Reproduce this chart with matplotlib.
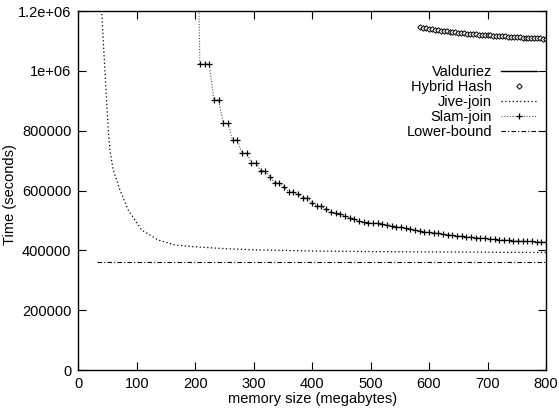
import matplotlib
matplotlib.use("Agg")
import matplotlib.pyplot as plt

plt.rcParams['font.family'] = ['Liberation Sans', 'DejaVu Sans']

# Jive-join (memory MB -> seconds)
jive_mem = [35, 40, 45.6, 51.3, 54.2, 59.8, 71.3, 85.5, 108.4, 136.8, 165.3, 196.6, 250, 300, 400, 500, 600, 700, 800]
jive_time = [1400000, 1200000, 1000000, 802700, 735800, 668900, 602000, 535100, 468200, 434800, 418100, 412400,
             406000, 402000, 398000, 396000, 395000, 394000, 393000]

# Lower-bound
lb_mem = [32, 800]
lb_time = [362000, 362000]

# Slam-join, points every 8 MB
slam_mem = list(range(200, 801, 8))
slam_time = [2000000,
             1023000, 1023000, 1023000, 903000, 903000, 825000, 825000, 769000, 769000,
             725000, 725000, 693000, 693000, 666000, 666000, 646000, 626000, 626000, 611000,
             596000, 596000, 587000, 576000, 576000, 559000, 548000, 548000, 538000, 527000,
             524000, 521000, 515000, 509000, 504000, 498000, 496000, 493000, 491000, 490000,
             487000, 485000, 483000, 479000, 477000, 474000, 471000, 468000, 465000, 463000,
             460000, 459000, 457000, 455000, 453000, 451000, 449000, 447000, 446000, 444000,
             443000, 441000, 440000, 438000, 437000, 436000, 435000, 434000, 433000, 432000,
             431000, 430000, 430000, 429000, 428500, 428000]

# Hybrid Hash
hh_mem = [585, 590, 595, 600, 605, 610, 615, 620, 625, 630, 635, 640, 645,
          650, 655, 660, 665, 670, 675, 680, 685, 690, 695, 700, 705, 710, 715, 720, 725, 730, 735,
          740, 745, 750, 755, 760, 765, 770, 775, 780, 785, 790, 795, 800]
hh_time = [1146000, 1144000, 1142000, 1140500, 1139000,
           1137500, 1136000, 1134500, 1133000, 1132000, 1131000, 1130000, 1129000, 1128000, 1127000,
           1126000, 1125000, 1124000, 1123000, 1122000, 1121300, 1120600, 1120000, 1119300, 1118600,
           1118000, 1117300, 1116600, 1116000, 1115300, 1114700, 1114100, 1113500, 1113000, 1112400,
           1111800, 1111200, 1110700, 1110200, 1109700, 1109100, 1108600, 1108100, 1107600]

x_ticks = [0, 100, 200, 300, 400, 500, 600, 700, 800]
y_ticks = [0, 200000, 400000, 600000, 800000, 1000000, 1200000]
y_tick_labels = ['0', '200000', '400000', '600000', '800000', '1e+06', '1.2e+06']

fig = plt.figure(figsize=(5.59, 4.13), dpi=100)
ax = fig.add_axes([0.140, 0.104, 0.8367, 0.869])

ax.plot([], [], color='black', lw=1.0, label='Valduriez')
ax.plot(hh_mem, hh_time, linestyle='none', marker='D', markersize=2.8, markerfacecolor='white',
        markeredgecolor='black', markeredgewidth=0.7, label='Hybrid Hash')
ax.plot(jive_mem, jive_time, color='black', lw=0.9, linestyle=(0, (1, 2)), label='Jive-join')
ax.plot(slam_mem, slam_time, color='#555555', lw=0.8, linestyle=(0, (1, 1.5)), marker='+',
        markersize=4, markeredgecolor='black', markeredgewidth=0.9, label='Slam-join')
ax.plot(lb_mem, lb_time, color='black', lw=0.8, linestyle=(0, (4, 2, 1, 2)), label='Lower-bound')

ax.set_xlim(0, 800)
ax.set_ylim(0, 1200000)
ax.set_xticks(x_ticks)
ax.set_xticklabels([str(v) for v in x_ticks])
ax.set_yticks(y_ticks)
ax.set_yticklabels(y_tick_labels)
ax.tick_params(direction='in', length=6, width=0.8, top=True, right=True, labelsize=10.5, pad=5)
for s in ax.spines.values():
    s.set_linewidth(1.0)

ax.set_xlabel('memory size (megabytes)', fontsize=10.5, labelpad=1)
ax.set_ylabel('Time (seconds)', fontsize=10.5)
ax.yaxis.set_label_coords(-0.131, 0.49)

leg = ax.legend(loc='upper right', bbox_to_anchor=(1.0, 0.875), frameon=False, fontsize=10.5,
                markerfirst=False, handlelength=2.5, handletextpad=0.6, labelspacing=0.08,
                borderaxespad=0.2, numpoints=1)
for t in leg.get_texts():
    t.set_ha('right')

fig.savefig('out.png', dpi=100)
